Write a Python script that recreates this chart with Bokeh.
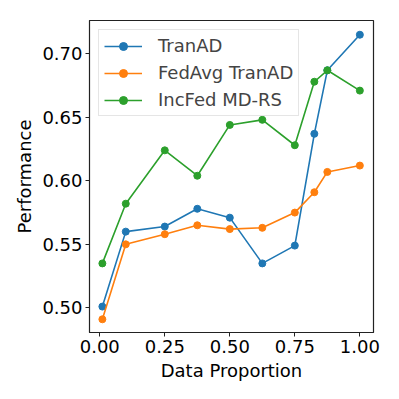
from bokeh.plotting import figure
from bokeh.embed import file_html
from bokeh.resources import INLINE
from bokeh.models import FixedTicker, PrintfTickFormatter, Range1d, Legend, LegendItem

data_proportion = [0.01, 0.1, 0.25, 0.375, 0.5, 0.625, 0.75, 0.825, 0.875, 1.0]
tranad = [0.501, 0.560, 0.564, 0.578, 0.571, 0.535, 0.549, 0.637, 0.687, 0.715]
fedavg_tranad = [0.491, 0.550, 0.558, 0.565, 0.562, 0.563, 0.575, 0.591, 0.607, 0.612]
incfed_mdrs = [0.535, 0.582, 0.624, 0.604, 0.644, 0.648, 0.628, 0.678, 0.687, 0.671]

series_names = ["TranAD", "FedAvg TranAD", "IncFed MD-RS"]
series_values = [tranad, fedavg_tranad, incfed_mdrs]
colors = ["#1f77b4", "#ff7f0e", "#2ca02c"]

x_ticks = [0.0, 0.25, 0.5, 0.75, 1.0]
y_ticks = [0.50, 0.55, 0.60, 0.65, 0.70]

FONT = "DejaVu Sans"
FS = "18px"

p = figure(width=399, height=399, output_backend="svg", toolbar_location=None,
           x_range=Range1d(-0.0395, 1.0525), y_range=Range1d(0.4806, 0.7262),
           min_border_left=89, min_border_right=26, min_border_top=20, min_border_bottom=67)
p.xgrid.visible = False
p.ygrid.visible = False
p.outline_line_color = "#222222"
p.outline_line_width = 1.2
p.background_fill_color = "white"
p.border_fill_color = "white"

items = []
for name, vals, c in zip(series_names, series_values, colors):
    r1 = p.line(data_proportion, vals, line_color=c, line_width=1.6)
    r2 = p.scatter(data_proportion, vals, fill_color=c, line_color=c, size=7)
    items.append(LegendItem(label=name, renderers=[r1, r2]))

for ax, ticks in ((p.xaxis[0], x_ticks), (p.yaxis[0], y_ticks)):
    ax.ticker = FixedTicker(ticks=ticks)
    ax.formatter = PrintfTickFormatter(format="%.2f")
    ax.minor_tick_line_color = None
    ax.major_tick_in = 0
    ax.major_tick_out = 4
    ax.major_tick_line_color = "#222222"
    ax.axis_line_color = "#222222"
    ax.major_label_text_font = FONT
    ax.major_label_text_font_size = FS
    ax.major_label_text_color = "black"
    ax.axis_label_text_font = FONT
    ax.axis_label_text_font_size = FS
    ax.axis_label_text_font_style = "normal"
    ax.axis_label_text_color = "black"
    ax.major_label_standoff = 3
    ax.axis_label_standoff = 4

p.xaxis[0].axis_label = "Data Proportion"
p.yaxis[0].axis_label = "Performance"

legend = Legend(items=items, location="top_left")
legend.margin = 9
legend.padding = 5
legend.spacing = 6
legend.glyph_width = 38
legend.glyph_height = 20
legend.label_height = 20
legend.label_standoff = 16
legend.label_text_font = FONT
legend.label_text_font_size = FS
legend.border_line_color = "#cccccc"
legend.border_line_width = 1
legend.background_fill_alpha = 0.8
p.add_layout(legend)

open("out.html", "w").write(file_html(p, INLINE))
